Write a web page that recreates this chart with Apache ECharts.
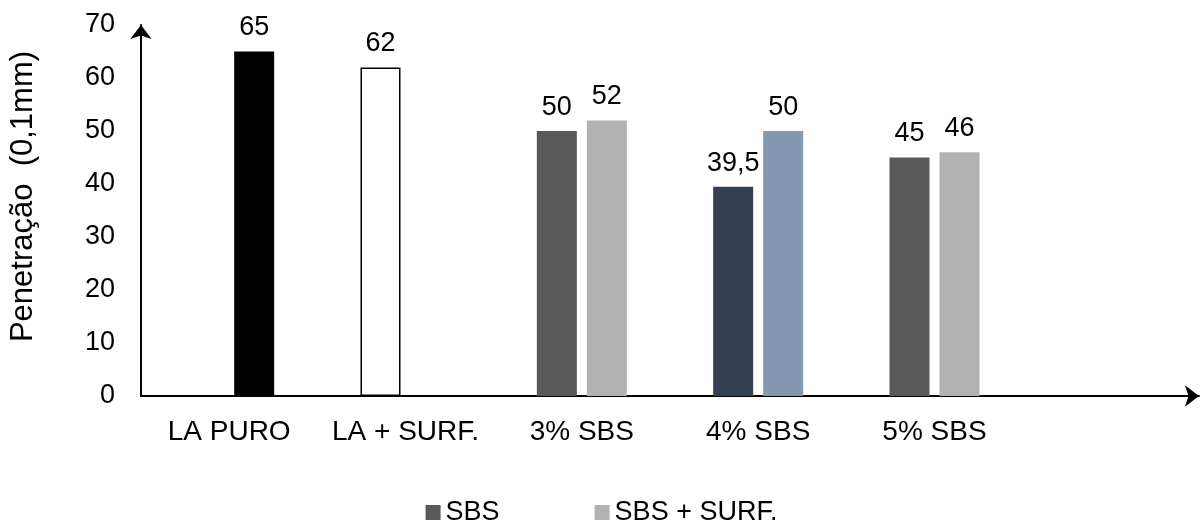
<!DOCTYPE html>
<html>
<head>
<meta charset="utf-8">
<script src="https://cdn.jsdelivr.net/npm/echarts@6/dist/echarts.min.js"></script>
<style>
  html, body { margin: 0; padding: 0; background: #fff; }
  #chart { width: 1203px; height: 524px; }
</style>
</head>
<body>
<div id="chart"></div>
<script>
// Penetration of the binders, in 0.1 mm
const categories = ['LA PURO', 'LA + SURF.', '3% SBS', '4% SBS', '5% SBS', ''];
const yTicks = [0, 10, 20, 30, 40, 50, 60, 70];
// left bar of each group / right bar of each group
const leftValues = [null, 62, 50, 39.5, 45, null];
const rightValues = [65, null, 52, 50, 46, null];
const leftColors = ['#000000', '#ffffff', '#595959', '#333f50', '#595959', '#595959'];
const rightColors = ['#000000', '#ffffff', '#b2b2b2', '#8497b0', '#b2b2b2', '#b2b2b2'];
const seriesNames = ['SBS', 'SBS + SURF.'];
const legendColors = ['#595959', '#b2b2b2'];

const FONT = 'Liberation Sans, Arial, sans-serif';

function items(values, colors) {
  return values.map((v, i) => ({
    value: v,
    itemStyle: {
      color: colors[i],
      borderColor: colors[i] === '#ffffff' ? '#000000' : colors[i],
      borderWidth: colors[i] === '#ffffff' ? 1.5 : 0
    }
  }));
}

const label = {
  show: true,
  position: 'top',
  distance: 10,
  color: '#000',
  fontFamily: FONT,
  fontSize: 27,
  formatter: p => String(p.value).replace('.', ',')
};

const chart = echarts.init(document.getElementById('chart'), null, { renderer: 'canvas' });
chart.setOption({
  animation: false,
  backgroundColor: '#ffffff',
  textStyle: { fontFamily: FONT },
  grid: { left: 141, right: 4, top: 25, bottom: 128, containLabel: false, outerBoundsMode: 'none' },
  legend: {
    top: 494,
    left: 'center',
    itemWidth: 15,
    itemHeight: 15,
    itemGap: 95,
    icon: 'rect',
    textStyle: { fontFamily: FONT, fontSize: 27, color: '#000' },
    data: seriesNames.map((n, i) => ({ name: n, itemStyle: { color: legendColors[i] } }))
  },
  xAxis: {
    type: 'category',
    data: categories,
    axisLine: { lineStyle: { color: '#000', width: 2 }, symbol: ['none', 'arrow'], symbolSize: [16, 14] },
    axisTick: { show: false },
    axisLabel: { color: '#000', fontSize: 28, fontFamily: FONT, margin: 22, interval: 0 },
    splitLine: { show: false }
  },
  yAxis: {
    type: 'value',
    min: yTicks[0],
    max: yTicks[yTicks.length - 1],
    interval: 10,
    name: 'Penetração  (0,1mm)',
    nameLocation: 'middle',
    nameGap: 102,
    nameTextStyle: { color: '#000', fontSize: 31, fontFamily: FONT, padding: [0, 0, 0, 28] },
    axisLine: { show: true, lineStyle: { color: '#000', width: 2 }, symbol: ['none', 'arrow'], symbolSize: [16, 14] },
    axisTick: { show: false },
    axisLabel: { color: '#000', fontSize: 27, fontFamily: FONT, margin: 26 },
    splitLine: { show: false }
  },
  series: [
    {
      name: seriesNames[0],
      type: 'bar',
      barWidth: 40,
      barGap: '25%',
      itemStyle: { color: legendColors[0] },
      label: label,
      data: items(leftValues, leftColors)
    },
    {
      name: seriesNames[1],
      type: 'bar',
      barWidth: 40,
      barGap: '25%',
      itemStyle: { color: legendColors[1] },
      label: label,
      data: items(rightValues, rightColors)
    }
  ]
});
</script>
</body>
</html>
